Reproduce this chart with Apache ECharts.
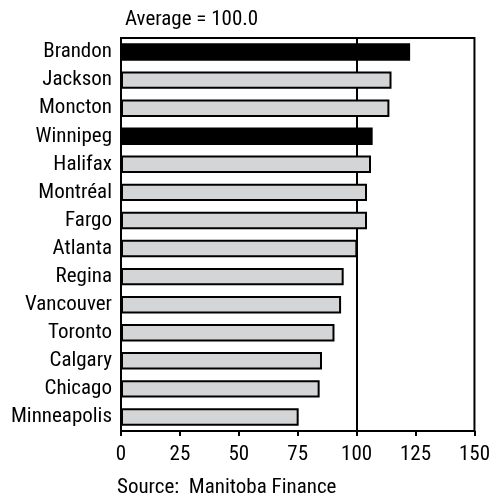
<!DOCTYPE html>
<html>
<head>
<meta charset="utf-8">
<script src="https://cdn.jsdelivr.net/npm/echarts@6/dist/echarts.min.js"></script>
<style>
  html, body { margin: 0; padding: 0; background: #ffffff; }
  #chart { width: 493px; height: 500px; }
</style>
</head>
<body>
<div id="chart"></div>
<script>
// Cities, listed top to bottom
const cities = ['Brandon', 'Jackson', 'Moncton', 'Winnipeg', 'Halifax', 'Montréal', 'Fargo',
  'Atlanta', 'Regina', 'Vancouver', 'Toronto', 'Calgary', 'Chicago', 'Minneapolis'];
// Index values (average = 100)
const indexValues = [122.7, 114.8, 113.9, 106.8, 106.1, 104.4, 104.4,
  100.3, 94.5, 93.4, 90.6, 85.3, 84.3, 75.4];
// Manitoba cities are highlighted
const highlighted = ['Brandon', 'Winnipeg'];
const averageValue = 100;
const xTicks = [0, 25, 50, 75, 100, 125, 150];

const FONT = 'Roboto Condensed';
const FS = 21;
const chart = echarts.init(document.getElementById('chart'));

const barData = cities.map((c, i) => ({
  value: indexValues[i],
  itemStyle: highlighted.includes(c)
    ? { color: '#000000', borderColor: '#000000', borderWidth: 2 }
    : { color: '#d4d5d6', borderColor: '#000000', borderWidth: 2 }
}));

chart.setOption({
  animation: false,
  textStyle: { fontFamily: FONT },
  title: [
    { text: 'Average = 100.0', left: 120, top: 4,
      textStyle: { fontFamily: FONT, fontSize: FS, fontWeight: 'normal', color: '#000' } },
    { text: 'Source:  Manitoba Finance', left: 112, top: 472,
      textStyle: { fontFamily: FONT, fontSize: FS, fontWeight: 'normal', color: '#000' } }
  ],
  grid: {
    left: 121, right: 17, top: 38, bottom: 69,
    show: true, borderColor: '#000', borderWidth: 2, backgroundColor: 'transparent'
  },
  xAxis: {
    type: 'value', min: xTicks[0], max: xTicks[xTicks.length - 1], interval: 25,
    axisLine: { show: true, lineStyle: { color: '#000', width: 2 } },
    axisTick: { show: true, length: 5, lineStyle: { color: '#000', width: 2 } },
    axisLabel: { color: '#000', fontSize: FS, fontFamily: FONT, margin: 13 },
    splitLine: { show: false }
  },
  yAxis: {
    type: 'category', data: cities, inverse: true,
    axisLine: { show: true, lineStyle: { color: '#000', width: 2 } },
    axisTick: { show: false },
    axisLabel: { color: '#000', fontSize: FS, fontFamily: FONT, margin: 9 }
  },
  series: [
    {
      // reference line at the average, drawn underneath the bars
      type: 'line', data: [], z: 1,
      markLine: {
        symbol: 'none', silent: true, z: 1,
        label: { show: false },
        lineStyle: { color: '#000', width: 2, type: 'solid' },
        data: [{ xAxis: averageValue }]
      }
    },
    {
      type: 'bar', z: 3,
      data: barData,
      barCategoryGap: '38%'
    }
  ]
});
</script>
</body>
</html>
